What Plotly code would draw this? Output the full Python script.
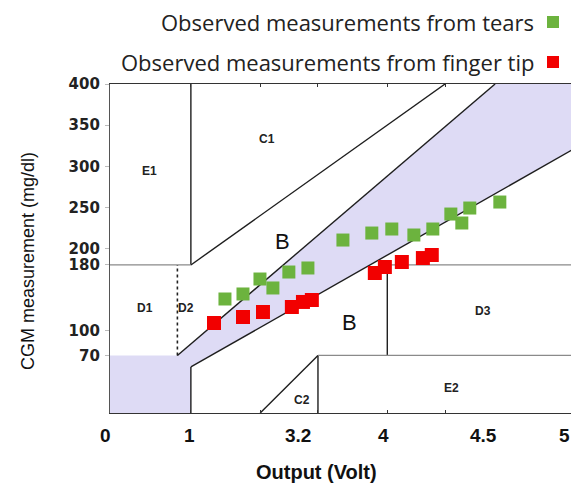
import plotly.graph_objects as go

# ---------------- data (x in grid units, y in mg/dl) ----------------
tears_x = [99.5, 115.1, 129.8, 141.0, 154.8, 171.3, 201.6, 226.6, 243.9, 263.0, 279.4, 295.0, 304.5, 311.4, 337.4]
tears_y = [138.6, 144.7, 162.9, 152.0, 171.4, 176.3, 210.3, 218.8, 223.7, 216.4, 223.7, 241.9, 231.0, 249.2, 256.5]
finger_x = [90.0, 115.1, 132.4, 157.4, 167.0, 174.7, 229.2, 237.9, 252.6, 270.8, 278.5]
finger_y = [109.4, 116.7, 122.8, 128.9, 135.0, 137.4, 170.2, 177.5, 183.6, 188.4, 192.1]

X_MAX = 399.0
x_tick_text = ["0", "1", "3.2", "4", "4.5", "5"]
x_tick_pos = [-4.3, 69.2, 162.6, 237.0, 323.5, 393.5]
x_minor_ticks = [70, 130, 180, 240, 290]
y_tick_vals = [70, 100, 180, 200, 250, 300, 350, 400]

# zone A polygon
zoneA_x = [0, 70, 70, 400, 400, 333.3, 58.33, 0, 0]
zoneA_y = [0, 0, 56, 320, 400, 400, 70, 70, 0]

# boundary segments
dark_segments = [
    ([58.33, 333.3], [70, 400]),
    ([70, 70], [180, 400]),
    ([70, 290], [180, 400]),
    ([70, 70], [0, 56]),
    ([70, 400], [56, 320]),
    ([180, 180], [0, 70]),
    ([240, 240], [70, 180]),
    ([130, 180], [0, 70]),
]
gray_segments = [
    ([0, 70], [180, 180]),
    ([180, 400], [70, 70]),
    ([240, 400], [180, 180]),
]
dashed_segments = [
    ([58.33, 58.33], [70, 180]),
]

zone_text = ["E1", "C1", "D1", "D2", "D3", "C2", "E2"]
zone_x = [34.6, 136.0, 30.0, 66.0, 322.7, 166.0, 296.0]
zone_y = [294, 333, 128, 128, 124, 16, 30]
big_text = ["B", "B"]
big_x = [149.0, 207.6]
big_y = [209, 110.6]

GREEN = "#6cb33e"
RED = "#f20000"

fig = go.Figure()

fig.add_trace(go.Scatter(x=zoneA_x, y=zoneA_y, fill="toself", mode="none",
                         fillcolor="rgb(222,219,245)", showlegend=False, hoverinfo="skip"))

for sx, sy in dark_segments:
    fig.add_trace(go.Scatter(x=sx, y=sy, mode="lines", line=dict(color="#1e1e1e", width=1.4),
                             showlegend=False, hoverinfo="skip"))
for sx, sy in gray_segments:
    fig.add_trace(go.Scatter(x=sx, y=sy, mode="lines", line=dict(color="#8a8a8a", width=1.2),
                             showlegend=False, hoverinfo="skip"))
for sx, sy in dashed_segments:
    fig.add_trace(go.Scatter(x=sx, y=sy, mode="lines", line=dict(color="#222", width=1.6, dash="dot"),
                             showlegend=False, hoverinfo="skip"))

fig.add_trace(go.Scatter(x=tears_x, y=tears_y, mode="markers", name="Observed measurements from tears",
                         marker=dict(symbol="square", size=13, color=GREEN, line=dict(width=0)),
                         showlegend=False))
fig.add_trace(go.Scatter(x=finger_x, y=finger_y, mode="markers", name="Observed measurements from finger tip",
                         marker=dict(symbol="square", size=14, color=RED, line=dict(width=0)),
                         showlegend=False))

annotations = []
for t, x, y in zip(zone_text, zone_x, zone_y):
    annotations.append(dict(x=x, y=y, xref="x", yref="y", text=t, showarrow=False,
                            font=dict(family="Arial", size=12, color="#222", weight="bold")))
for t, x, y in zip(big_text, big_x, big_y):
    annotations.append(dict(x=x, y=y, xref="x", yref="y", text=t, showarrow=False,
                            font=dict(family="Arial", size=22, color="#111")))
for t, x in zip(x_tick_text, x_tick_pos):
    annotations.append(dict(x=x / X_MAX, y=0, xref="paper", yref="paper", text=t, showarrow=False,
                            xanchor="center", yanchor="middle", yshift=-22,
                            font=dict(family="Arial", size=19, color="#111", weight="bold")))

annotations.append(dict(x=-0.178, y=0.462, xref="paper", yref="paper", text="CGM measurement (mg/dl)",
                        textangle=-90, showarrow=False, xanchor="center", yanchor="middle",
                        font=dict(family="Arial", size=18, color="#111")))
annotations.append(dict(x=0.447, y=-0.179, xref="paper", yref="paper", text="Output (Volt)",
                        showarrow=False, xanchor="center", yanchor="middle",
                        font=dict(family="Arial", size=20, color="#111", weight="bold")))

# legend
legend_items = [("Observed measurements from tears", GREEN), ("Observed measurements from finger tip", RED)]
legend_px_y = [22, 62]
shapes = []
for (txt, col), py in zip(legend_items, legend_px_y):
    ypaper = (413 - py) / 329.0
    annotations.append(dict(x=(536 - 110) / 461.0, y=ypaper, xref="paper", yref="paper", text=txt,
                            xanchor="right", yanchor="middle", showarrow=False,
                            font=dict(family="Open Sans", size=22, color="#222")))
    shapes.append(dict(type="rect", xref="paper", yref="paper",
                       x0=(547 - 110) / 461.0, x1=(559 - 110) / 461.0,
                       y0=(413 - py - 6) / 329.0, y1=(413 - py + 6) / 329.0,
                       fillcolor=col, line=dict(width=0)))

fig.update_layout(
    width=571, height=483,
    margin=dict(l=110, r=0, t=84, b=70),
    paper_bgcolor="white", plot_bgcolor="white",
    annotations=annotations, shapes=shapes,
    showlegend=False,
    xaxis=dict(range=[0, X_MAX], showgrid=False, zeroline=False,
               showline=True, linecolor="#333", linewidth=1.2, mirror="ticks",
               tickvals=x_minor_ticks, ticks="inside", ticklen=3, tickcolor="#333",
               showticklabels=False),
    yaxis=dict(range=[0, 400], showgrid=False, zeroline=False,
               showline=True, linecolor="#555", linewidth=1.2, mirror=False,
               tickvals=y_tick_vals, ticks="outside", ticklen=4, tickcolor="#bbb",
               tickfont=dict(family="DejaVu Sans", size=15, color="#222", weight="bold"),
               ticklabelstandoff=2),
)

fig.write_html("out.html")
